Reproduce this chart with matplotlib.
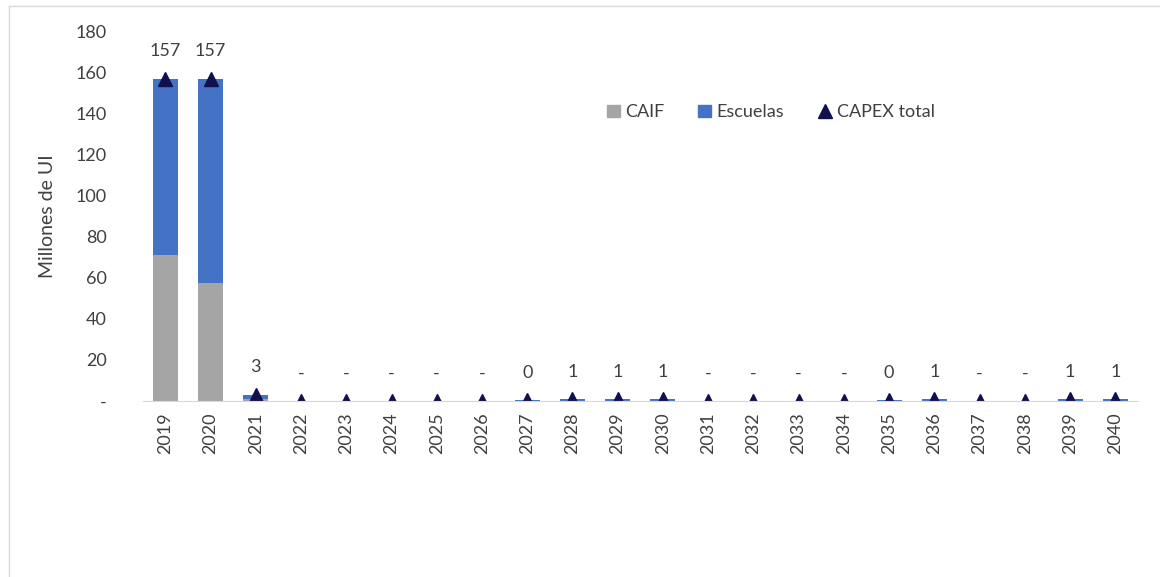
import numpy as np
import matplotlib
matplotlib.use("Agg")
import matplotlib.pyplot as plt
from matplotlib.lines import Line2D
from matplotlib.patches import Patch

plt.rcParams['font.family'] = ['Lato', 'DejaVu Sans']

years = [str(y) for y in range(2019, 2041)]
caif = [71, 57.5, 1.2, 0, 0, 0, 0, 0, 0.1, 0.2, 0.2, 0.2, 0, 0, 0, 0, 0.1, 0.2, 0, 0, 0.2, 0.2]
escuelas = [86, 99.5, 1.8, 0, 0, 0, 0, 0, 0.3, 0.6, 0.7, 0.7, 0, 0, 0, 0, 0.3, 0.6, 0, 0, 0.7, 0.7]
total = [a + b for a, b in zip(caif, escuelas)]

c_caif = '#A5A5A5'
c_esc = '#4472C4'
c_tri = '#10104F'
txt = '#404040'

fig = plt.figure(figsize=(11.6, 5.77), dpi=100)
ax = fig.add_axes([0.123, 0.305, 0.858, 0.64])

x = np.arange(len(years))
ax.bar(x, caif, width=0.55, color=c_caif)
ax.bar(x, escuelas, width=0.55, bottom=caif, color=c_esc)
ax.plot(x, total, linestyle='none', marker='^', markersize=10.5, color=c_tri)

for xi, t in zip(x, total):
    lab = '-' if t == 0 else f'{t:.0f}'
    ax.annotate(lab, (xi, t), xytext=(0, 14), textcoords='offset points',
                ha='center', va='bottom', fontsize=13, color=txt)

ax.set_xlim(-0.5, len(years) - 0.5)
ax.set_ylim(0, 180)
ax.set_yticks(range(0, 181, 20))
ax.set_yticklabels(['-'] + [str(v) for v in range(20, 181, 20)])
ax.set_xticks(x)
ax.set_xticklabels(years, rotation=90)
ax.tick_params(axis='both', length=0, labelsize=13, colors=txt, pad=8)
ax.tick_params(axis='y', pad=26)
for s in ['top', 'right', 'left']:
    ax.spines[s].set_visible(False)
ax.spines['bottom'].set_color('#D9D9D9')
ax.set_ylabel('Millones de UI', fontsize=14, color=txt, labelpad=14)

handles = [Patch(color=c_caif, label='CAIF'),
           Patch(color=c_esc, label='Escuelas'),
           Line2D([], [], linestyle='none', marker='^', markersize=10, color=c_tri, label='CAPEX total')]
ax.legend(handles=handles, loc='center', bbox_to_anchor=(0.631, 0.782), ncol=3, frameon=False,
          fontsize=13, handlelength=0.7, handleheight=0.7, handletextpad=0.3, columnspacing=1.9,
          labelcolor=txt)

# chart border
fig.add_artist(plt.Line2D([0.008, 0.008], [0.0, 0.99], color='#D9D9D9', lw=1))
fig.add_artist(plt.Line2D([0.008, 1.0], [0.99, 0.99], color='#D9D9D9', lw=1))

fig.savefig('out.png', dpi=100)
